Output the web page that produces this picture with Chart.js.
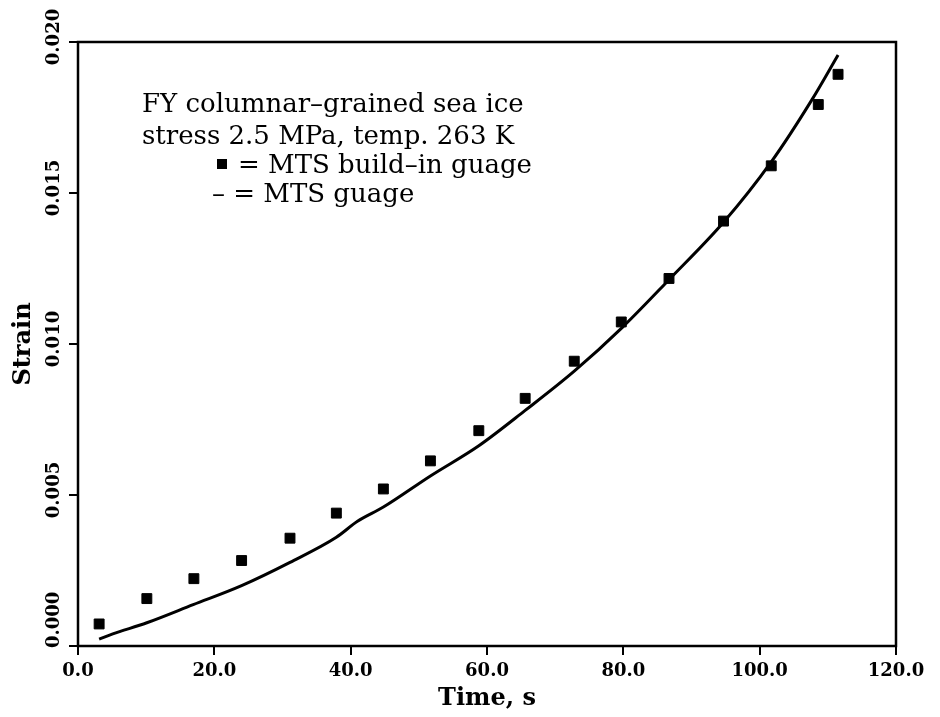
<!DOCTYPE html>
<html>
<head>
  <title>Strain vs time</title>
  <script src="https://cdn.jsdelivr.net/npm/chart.js"></script>
  <style>
    body { margin: 0; background: #fff; }
  </style>
</head>
<body>
  <canvas id="myChart" width="940" height="717"></canvas>

  <script>
// values
const squareTimes = [3.1, 10.1, 17.0, 24.0, 31.1, 37.9, 44.8, 51.7, 58.8, 65.6, 72.8, 79.7, 86.7, 94.7, 101.7, 108.6, 111.5];
const squareStrains = [0.00073, 0.00157, 0.00223, 0.00283, 0.00357, 0.0044, 0.0052, 0.00613, 0.00713, 0.0082, 0.00943, 0.01073, 0.01217, 0.01407, 0.0159, 0.01793, 0.01893];

const lineTimes = [3.1, 5.1, 10.1, 16.9, 24.0, 31.1, 37.9, 41.0, 44.8, 51.7, 58.8, 65.6, 72.8, 79.9, 86.7, 94.7, 101.7, 107.7, 111.5];
const lineStrains = [0.00023, 0.0004, 0.00077, 0.00137, 0.0020, 0.00277, 0.0036, 0.00413, 0.0046, 0.00563, 0.00663, 0.0078, 0.0091, 0.01056, 0.01213, 0.01403, 0.01603, 0.0181, 0.01957];

const legendLines = [
  'FY columnar\u2013grained sea ice',
  'stress 2.5 MPa, temp. 263 K',
  '= MTS build\u2013in guage',
  '\u2013 = MTS guage'
];

const serif = '"DejaVu Serif", serif';

// frame, legend text and rotated y tick labels
const decorations = {
  id: 'decorations',
  afterDraw(chart) {
    const ctx = chart.ctx;
    const area = chart.chartArea;
    ctx.save();
    ctx.strokeStyle = '#000';
    ctx.lineWidth = 2.5;
    ctx.strokeRect(area.left, area.top, area.right - area.left, area.bottom - area.top);

    // y tick labels, read bottom to top
    const y = chart.scales.y;
    ctx.fillStyle = '#000';
    ctx.font = 'bold 18px ' + serif;
    ctx.textAlign = 'center';
    ctx.textBaseline = 'middle';
    y.ticks.forEach(t => {
      const label = t.value.toFixed(3);
      const half = ctx.measureText(label).width / 2;
      let cy = y.getPixelForValue(t.value) - 5;
      if (cy + half > area.bottom + 2) cy = area.bottom + 2 - half;
      ctx.save();
      ctx.translate(54, cy);
      ctx.rotate(-Math.PI / 2);
      ctx.fillText(label, 0, 0);
      ctx.restore();
    });

    // legend block
    ctx.font = '26px ' + serif;
    ctx.textAlign = 'left';
    ctx.textBaseline = 'alphabetic';
    ctx.fillText(legendLines[0], 142, 112);
    ctx.fillText(legendLines[1], 142, 144);
    ctx.fillRect(217, 159, 10, 10);
    ctx.fillText(legendLines[2], 238, 173);
    ctx.fillText(legendLines[3], 212, 202);
    ctx.restore();
  }
};

const ctx = document.getElementById('myChart');

const chart = new Chart(ctx, {
  type: 'scatter',
  data: {
    datasets: [
      {
        label: 'MTS build-in guage',
        data: squareTimes.map((t, i) => ({ x: t, y: squareStrains[i] })),
        pointStyle: 'rect',
        pointRadius: 7,
        backgroundColor: '#000',
        borderColor: '#000',
        borderWidth: 1
      },
      {
        type: 'line',
        label: 'MTS guage',
        data: lineTimes.map((t, i) => ({ x: t, y: lineStrains[i] })),
        showLine: true,
        pointRadius: 0,
        borderColor: '#000',
        borderWidth: 3,
        cubicInterpolationMode: 'monotone',
        fill: false
      }
    ]
  },
  options: {
    responsive: false,
    animation: false,
    layout: { padding: { left: 0, right: 44, top: 42, bottom: 0 } },
    plugins: {
      legend: { display: false },
      tooltip: { enabled: false }
    },
    scales: {
      x: {
        type: 'linear',
        min: 0,
        max: 120,
        afterFit: s => { s.height = 71; },
        border: { display: false },
        grid: { drawOnChartArea: false, drawTicks: true, tickLength: 9, color: '#000', lineWidth: 2 },
        ticks: {
          stepSize: 20,
          color: '#000',
          padding: 6,
          maxRotation: 0,
          font: { family: serif, size: 18, weight: 'bold' },
          callback: v => v.toFixed(1)
        },
        title: {
          display: true,
          text: 'Time, s',
          color: '#000',
          font: { family: serif, size: 24, weight: 'bold' },
          padding: { top: 0, bottom: 4 }
        }
      },
      y: {
        type: 'linear',
        min: 0,
        max: 0.02,
        afterFit: s => { s.width = 78; },
        border: { display: false },
        grid: { drawOnChartArea: false, drawTicks: true, tickLength: 9, color: '#000', lineWidth: 2 },
        ticks: {
          stepSize: 0.005,
          display: false
        },
        title: {
          display: true,
          text: 'Strain',
          color: '#000',
          font: { family: serif, size: 24, weight: 'bold' },
          padding: { top: 9, bottom: 0 }
        }
      }
    }
  },
  plugins: [decorations]
});
  </script>
</body>
</html>
